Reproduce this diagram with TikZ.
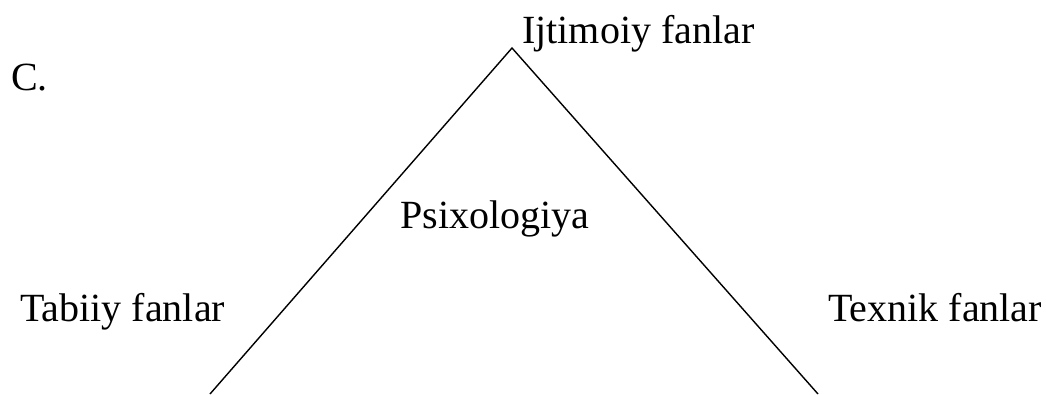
\documentclass[tikz,border=0pt]{standalone}
\usepackage{fontspec}
\setmainfont{Liberation Serif}
\begin{document}
\begin{tikzpicture}[x=1pt,y=-1pt,
  lbl/.style={anchor=base west,inner sep=0pt,font=\fontsize{40}{48}\selectfont},
  edge/.style={draw=black,line width=1.4pt}]
\useasboundingbox (0,0) rectangle (1046,394);
\coordinate (apex) at (512,48);
\coordinate (bl) at (210,394);
\coordinate (br) at (818,394);
\draw[edge] (bl) -- (apex) -- (br);
\node[lbl] (top) at (522,43) {Ijtimoiy fanlar};
\node[lbl] (c) at (11,90) {C.};
\node[lbl] (psi) at (400,228) {Psixologiya};
\node[lbl] (tab) at (20,321) {Tabiiy fanlar};
\node[lbl] (tex) at (828,321) {Texnik fanlar};
\end{tikzpicture}
\end{document}
